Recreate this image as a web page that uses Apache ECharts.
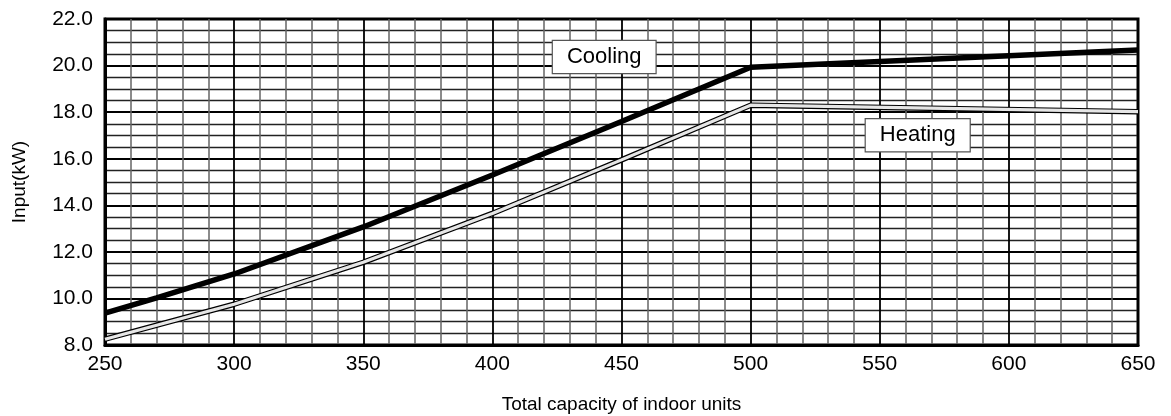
<!DOCTYPE html>
<html>
<head>
<meta charset="utf-8">
<script src="https://cdn.jsdelivr.net/npm/echarts@6/dist/echarts.min.js"></script>
<style>
html,body{margin:0;padding:0;background:#fff;}
#chart{width:1171px;height:416px;}
</style>
</head>
<body>
<div id="chart"></div>
<script>
// ---- data ----
const capacity = [250, 270, 300, 350, 400, 450, 500, 650];
const coolingInput = [9.37, 10.02, 11.05, 13.07, 15.3, 17.6, 19.93, 20.67];
const heatingCapacity = [250, 300, 350, 400, 450, 500, 650];
const heatingInput = [8.25, 9.75, 11.55, 13.65, 15.95, 18.3, 18.02];
const xTicks = [250, 300, 350, 400, 450, 500, 550, 600, 650];
const yTicks = [8, 10, 12, 14, 16, 18, 20, 22];
const seriesNames = ['Cooling', 'Heating'];
const xTitle = 'Total capacity of indoor units';
const yTitle = 'Input(kW)';

// annotation anchor positions (data space)
const coolingLabelAt = [443.3, 20.37];
const heatingLabelAt = [564.7, 17.01];

const FONT = 'Liberation Sans, Arial, Helvetica, sans-serif';
const pair = (xs, ys) => xs.map((x, i) => [x, ys[i]]);

function boxLabel(text, coord) {
  return {
    coord: coord,
    symbol: 'rect',
    symbolSize: 1,
    itemStyle: { color: 'rgba(0,0,0,0)' },
    label: {
      show: true,
      position: 'inside',
      formatter: text,
      color: '#000',
      fontFamily: FONT,
      fontSize: 22,
      lineHeight: 22,
      backgroundColor: '#fff',
      borderColor: '#555',
      borderWidth: 1.2,
      padding: [5, 14, 5, 14]
    }
  };
}

const chart = echarts.init(document.getElementById('chart'), null, { renderer: 'canvas' });
chart.setOption({
  animation: false,
  backgroundColor: '#fff',
  grid: {
    left: 105, right: 33, top: 19, bottom: 71,
    containLabel: false,
    outerBoundsMode: 'none',
    show: true, borderColor: '#000', borderWidth: 3, backgroundColor: 'transparent'
  },
  xAxis: {
    type: 'value',
    min: xTicks[0], max: xTicks[xTicks.length - 1], interval: 50,
    name: xTitle, nameLocation: 'middle', nameGap: 50,
    nameTextStyle: { fontFamily: FONT, fontSize: 19, color: '#000' },
    axisLine: { show: true, lineStyle: { color: '#000', width: 3 } },
    axisTick: { show: false },
    axisLabel: { fontFamily: FONT, fontSize: 21, color: '#000', margin: 9 },
    splitLine: { show: true, lineStyle: { color: '#000', width: 1.8 } },
    minorTick: { show: false, splitNumber: 5 },
    minorSplitLine: { show: true, lineStyle: { color: '#666', width: 1.5 } }
  },
  yAxis: {
    type: 'value',
    min: yTicks[0], max: yTicks[yTicks.length - 1], interval: 2,
    name: yTitle, nameLocation: 'middle', nameGap: 76, nameRotate: 90,
    nameTextStyle: { fontFamily: FONT, fontSize: 19, color: '#000' },
    axisLine: { show: true, lineStyle: { color: '#000', width: 3 } },
    axisTick: { show: false },
    axisLabel: { fontFamily: FONT, fontSize: 21, color: '#000', margin: 12,
      formatter: v => v.toFixed(1) },
    splitLine: { show: true, lineStyle: { color: '#000', width: 1.8 } },
    minorTick: { show: false, splitNumber: 4 },
    minorSplitLine: { show: true, lineStyle: { color: '#222', width: 1.3 } }
  },
  series: [
    {
      name: seriesNames[0], type: 'line', data: pair(capacity, coolingInput),
      showSymbol: false, symbol: 'none', z: 5,
      lineStyle: { color: '#000', width: 5.5 },
      markPoint: { data: [boxLabel(seriesNames[0], coolingLabelAt)], z: 10 }
    },
    {
      name: seriesNames[1] + ' outline', type: 'line', data: pair(heatingCapacity, heatingInput),
      showSymbol: false, symbol: 'none', z: 3,
      lineStyle: { color: '#000', width: 5.5 }
    },
    {
      name: seriesNames[1], type: 'line', data: pair(heatingCapacity, heatingInput),
      showSymbol: false, symbol: 'none', z: 4,
      lineStyle: { color: '#e6e6e6', width: 3.2 },
      markPoint: { data: [boxLabel(seriesNames[1], heatingLabelAt)], z: 10 }
    }
  ]
});
</script>
</body>
</html>
